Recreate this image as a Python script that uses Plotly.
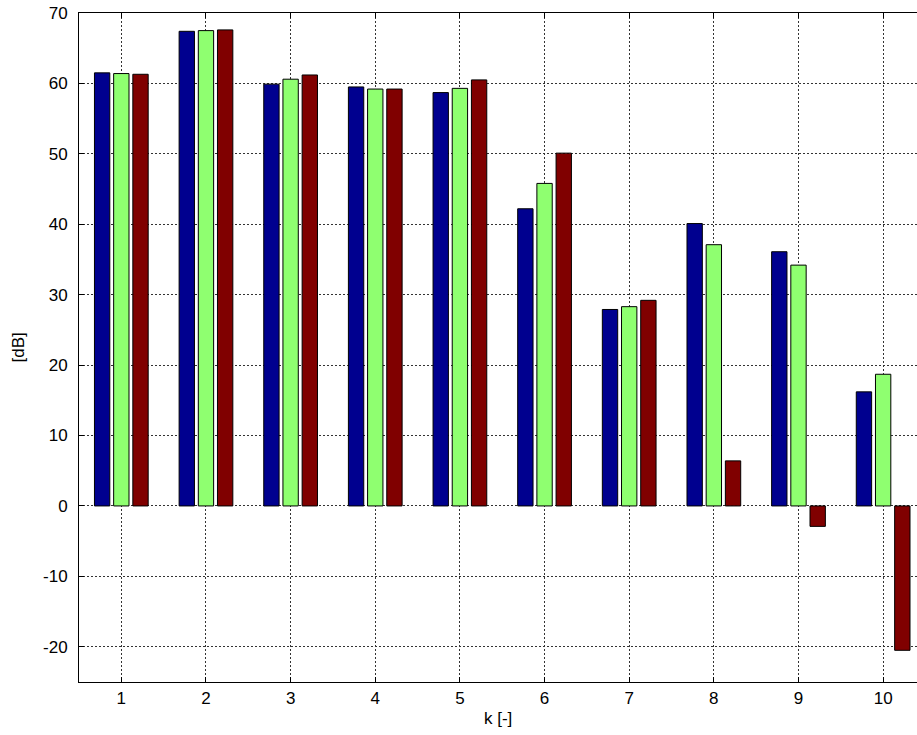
import plotly.graph_objects as go

# Frequency index k and level per series (dB)
k = [1, 2, 3, 4, 5, 6, 7, 8, 9, 10]
series_a = [61.5, 67.4, 59.9, 59.5, 58.7, 42.2, 27.9, 40.1, 36.1, 16.2]
series_b = [61.4, 67.5, 60.6, 59.2, 59.3, 45.8, 28.3, 37.1, 34.2, 18.7]
series_c = [61.3, 67.6, 61.2, 59.2, 60.5, 50.1, 29.2, 6.4, -2.9, -20.5]

colors = ["#00008F", "#8FFF70", "#800000"]

y_ticks = [-20, -10, 0, 10, 20, 30, 40, 50, 60, 70]
y_tick_text = ["-20", "-10", "0", "10", "20", "30", "40", "50", "60", "70"]

font = dict(family="Liberation Sans, Arial, Helvetica, sans-serif", size=17, color="black")

fig = go.Figure()
for vals, col in zip([series_a, series_b, series_c], colors):
    fig.add_trace(go.Bar(
        x=k, y=vals,
        marker=dict(color=col, line=dict(color="black", width=1)),
        showlegend=False,
    ))

grid = dict(showgrid=True, gridcolor="#333", gridwidth=1, griddash="2px,2px")

fig.update_layout(
    width=917, height=735,
    margin=dict(l=78.5, r=0, t=13, b=52.5),
    paper_bgcolor="white", plot_bgcolor="white",
    barmode="group", bargap=0.32, bargroupgap=0.2,
    font=font,
    xaxis=dict(
        range=[0.5, 10.4], tickvals=k, ticktext=[str(v) for v in k],
        ticks="inside", ticklen=5, tickcolor="black",
        showline=True, linecolor="black", linewidth=1, mirror="ticks",
        zeroline=False, tickfont=font, ticklabelstandoff=1, **grid,
    ),
    yaxis=dict(
        range=[-25, 70], tickvals=y_ticks, ticktext=y_tick_text,
        ticks="inside", ticklen=5, tickcolor="black",
        showline=True, linecolor="black", linewidth=1, mirror=False,
        zeroline=False, tickfont=font, ticklabelstandoff=7, **grid,
    ),
    annotations=[
        dict(text="k [-]", xref="paper", yref="paper", x=0.5, y=0,
             yshift=-36, showarrow=False, font=font, yanchor="middle"),
        dict(text="[dB]", xref="paper", yref="paper", x=0, y=0.5,
             xshift=-61, showarrow=False, font=font, textangle=-90,
             xanchor="center", yanchor="middle"),
    ],
)

fig.write_html("out.html")
